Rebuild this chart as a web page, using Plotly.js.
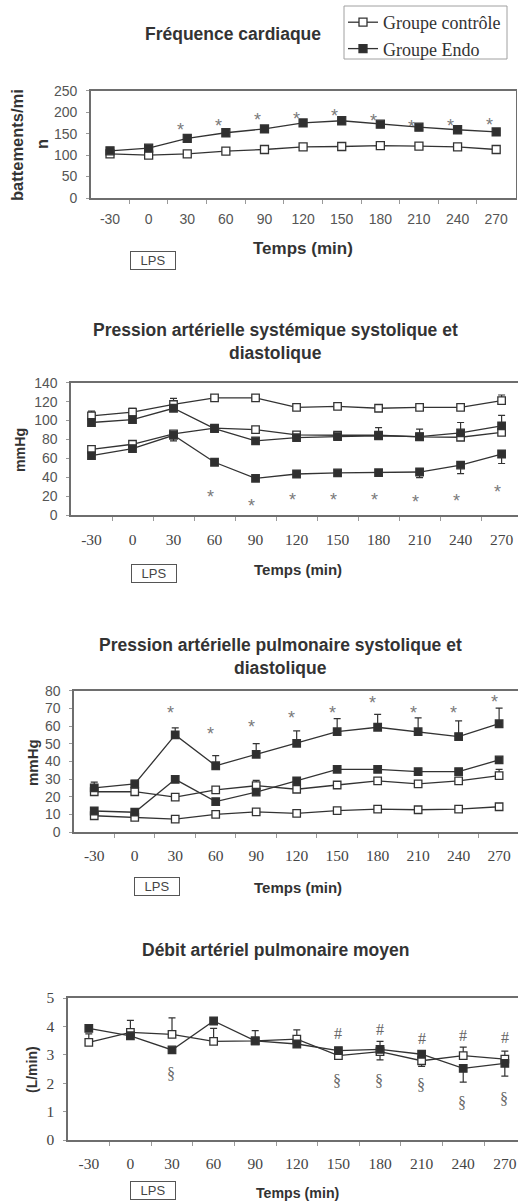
<!DOCTYPE html>
<html>
<head>
<meta charset="utf-8">
<script src="https://cdn.plot.ly/plotly-3.0.1.min.js"></script>
<style>
  html, body { margin: 0; padding: 0; background: #fff; }
  #chart { width: 518px; height: 1202px; }
</style>
</head>
<body>
<div id="chart"></div>
<script>
// Temps de mesure (min)
const times = [-30, 0, 30, 60, 90, 120, 150, 180, 210, 240, 270];
const timeLabels = ['-30', '0', '30', '60', '90', '120', '150', '180', '210', '240', '270'];

// Fréquence cardiaque (battements/min)
const fcControle = [103, 100, 103, 109, 113, 119, 120, 122, 121, 119, 113];
const fcEndo = [110, 116, 139, 152, 161, 175, 180, 172, 165, 159, 154];
const fcStarTimes = [30, 60, 90, 120, 150, 180, 210, 240, 270];
const fcStarLevels = [168, 176, 191, 193, 200, 188, 174, 178, 180];

// Pression artérielle systémique (mmHg)
const pasSysControle = [105, 109, 117, 124, 124, 114, 115, 113, 114, 114, 121];
const pasSysControleErr = [5, 4, 6.5, 0, 0, 0, 0, 0, 0, 0, 6];
const pasSysEndo = [98, 101, 113, 91.5, 78.5, 82, 83, 84, 83, 87, 94.5];
const pasSysEndoErr = [0, 0, 0, 0, 0, 0, 0, 8.5, 8, 11, 11];
const pasDiaControle = [69.5, 75, 86, 92, 90.5, 85, 84.5, 84.5, 82.7, 82.4, 87.6];
const pasDiaEndo = [63, 70.5, 84.5, 56, 39, 43.6, 44.7, 45, 45.7, 53, 64.7];
const pasDiaEndoErrMoins = [0, 0, 6, 0, 0, 0, 0, 0, 6, 9, 10];
const pasStarTimes = [60, 90, 120, 150, 180, 210, 240, 270];
const pasStarLevels = [24, 14, 20, 20.5, 20.5, 18, 19.7, 28.5];

// Pression artérielle pulmonaire (mmHg)
const papSysControle = [22.8, 22.8, 19.8, 23.8, 26.2, 24.2, 26.6, 28.9, 27.2, 28.9, 31.9];
const papSysControleErr = [0, 0, 0, 0, 3, 0, 0, 0, 0, 0, 3.5];
const papSysEndo = [25, 27.2, 55, 37.5, 44, 50.2, 56.8, 59.3, 56.8, 54, 61.3];
const papSysEndoErr = [3.2, 2, 4, 5.7, 6, 7, 7.4, 7.3, 7.8, 8.9, 8.8];
const papDiaControle = [9.2, 8.3, 7.3, 10, 11.4, 10.6, 12.1, 13, 12.6, 13, 14.3];
const papDiaEndo = [11.9, 11.2, 29.8, 17.2, 22.6, 29, 35.5, 35.5, 34.2, 34.2, 40.8];
const papStarTimes = [30, 60, 90, 120, 150, 180, 210, 240, 270];
const papStarLevels = [69.6, 58, 61.5, 66.6, 69.6, 75.3, 69.6, 69.6, 75.7];

// Débit artériel pulmonaire moyen (L/min)
const qControle = [3.44, 3.79, 3.72, 3.47, 3.49, 3.55, 2.97, 3.11, 2.79, 2.97, 2.85];
const qControleErrPlus = [0.3, 0.42, 0.58, 0.46, 0, 0.33, 0, 0, 0, 0.3, 0.28];
const qControleErrMoins = [0, 0, 0, 0, 0, 0, 0, 0.29, 0.2, 0, 0];
const qEndo = [3.93, 3.67, 3.17, 4.19, 3.49, 3.38, 3.15, 3.19, 3.02, 2.52, 2.7];
const qEndoErrPlus = [0, 0, 0, 0, 0.36, 0, 0, 0.28, 0, 0, 0];
const qEndoErrMoins = [0, 0, 0, 0, 0, 0, 0, 0, 0, 0.48, 0.45];
const qHashTimes = [150, 180, 210, 240, 270];
const qHashLevels = [3.76, 3.9, 3.58, 3.67, 3.62];
const qSectTimes = [30, 150, 180, 210, 240, 270];
const qSectLevels = [2.35, 2.09, 2.11, 1.94, 1.31, 1.47];

// ---- style ----
const W = 518, H = 1202;
const SANS = 'Liberation Sans, Arial, sans-serif';
const SERIF = 'Liberation Serif, Times New Roman, serif';
const INK = '#333333';
const AXIS = '#6e6e6e';
const px = x => x / W;
const py = y => 1 - y / H;

// boundaries between time points, where the x tick marks sit
const bounds = times.slice(0, -1).map(t => t + 15);

function series(x, y, xa, ya, filled, opts) {
  const o = opts || {};
  const t = {
    type: 'scatter', mode: 'lines+markers', x: x, y: y, xaxis: xa, yaxis: ya,
    line: { color: INK, width: 1.3 },
    marker: {
      symbol: 'square', size: o.size || 7.5,
      color: filled ? '#2f2f2f' : '#ffffff',
      line: { color: INK, width: 1.3 }
    },
    showlegend: !!o.name, name: o.name || '', hoverinfo: 'skip'
  };
  if (o.plus || o.minus) {
    t.error_y = {
      type: 'data', symmetric: false,
      array: o.plus || x.map(() => 0),
      arrayminus: o.minus || x.map(() => 0),
      color: INK, thickness: 1.2, width: 3.5
    };
  }
  return t;
}

const data = [
  series(times, fcControle, 'x', 'y', false, { name: 'Groupe contrôle', size: 8 }),
  series(times, fcEndo, 'x', 'y', true, { name: 'Groupe Endo', size: 8 }),

  series(times, pasSysControle, 'x2', 'y2', false, { plus: pasSysControleErr }),
  series(times, pasDiaControle, 'x2', 'y2', false, {}),
  series(times, pasSysEndo, 'x2', 'y2', true, { plus: pasSysEndoErr }),
  series(times, pasDiaEndo, 'x2', 'y2', true, { minus: pasDiaEndoErrMoins }),

  series(times, papSysControle, 'x3', 'y3', false, { plus: papSysControleErr }),
  series(times, papDiaControle, 'x3', 'y3', false, {}),
  series(times, papSysEndo, 'x3', 'y3', true, { plus: papSysEndoErr }),
  series(times, papDiaEndo, 'x3', 'y3', true, {}),

  series(times, qControle, 'x4', 'y4', false, { plus: qControleErrPlus, minus: qControleErrMoins }),
  series(times, qEndo, 'x4', 'y4', true, { plus: qEndoErrPlus, minus: qEndoErrMoins })
];

function xAxis(anchor, domain, range, tickFont, standoff) {
  return {
    anchor: anchor, domain: domain, range: range, type: 'linear',
    tickmode: 'array', tickvals: times, ticktext: timeLabels,
    ticks: '', showgrid: false, zeroline: false,
    showline: true, linecolor: AXIS, linewidth: 1.6, mirror: true,
    tickfont: tickFont, ticklabelstandoff: standoff,
    minor: { tickmode: 'array', tickvals: bounds, ticks: 'outside', ticklen: 4, tickcolor: '#9a9a9a', tickwidth: 1, showgrid: false }
  };
}
function yAxis(anchor, domain, range, dtick, tickFont, mirror) {
  return {
    anchor: anchor, domain: domain, range: range, dtick: dtick, tick0: 0,
    showgrid: false, zeroline: false,
    showline: true, linecolor: AXIS, linewidth: 1.6, mirror: mirror,
    ticks: 'outside', ticklen: 3, tickcolor: '#9a9a9a',
    tickfont: tickFont, ticklabelstandoff: 6
  };
}

const sansTicks = { family: SANS, size: 14, color: '#555' };
const serifTicks = { family: SERIF, size: 15.5, color: '#444' };

const layout = {
  width: W, height: H,
  margin: { l: 0, r: 0, t: 0, b: 0 },
  paper_bgcolor: '#fff', plot_bgcolor: '#fff',
  showlegend: true,
  legend: {
    x: px(343), y: py(4), xanchor: 'left', yanchor: 'top',
    borderwidth: 0, bgcolor: 'rgba(0,0,0,0)',
    font: { family: SERIF, size: 18, color: INK },
    itemwidth: 30, tracegroupgap: 0
  },
  shapes: [
    // cadre de la légende
    { type: 'rect', xref: 'paper', yref: 'paper', x0: px(344), x1: px(507), y0: py(59), y1: py(6),
      line: { color: '#a0a0a0', width: 1 }, fillcolor: 'rgba(0,0,0,0)', layer: 'below' }
  ],
  xaxis: xAxis('y', [px(90.7), px(515.5)], [-45, 285], sansTicks, 8),
  yaxis: yAxis('x', [py(198), py(90.7)], [0, 250], 50, sansTicks, true),
  xaxis2: xAxis('y2', [px(71), 1], [-45, 282], serifTicks, 9),
  yaxis2: yAxis('x2', [py(515.3), py(382.7)], [0, 140], 20, sansTicks, false),
  xaxis3: xAxis('y3', [px(74), 1], [-45, 284], serifTicks, 9),
  yaxis3: yAxis('x3', [py(832), py(690.7)], [0, 80], 10, sansTicks, false),
  xaxis4: xAxis('y4', [px(68), 1], [-45, 279.5], serifTicks, 9),
  yaxis4: yAxis('x4', [py(1140), py(998)], [0, 5], 1, serifTicks, false),
  annotations: []
};

const ann = layout.annotations;
function paperText(text, x, y, font, extra) {
  ann.push(Object.assign({
    text: text, xref: 'paper', yref: 'paper', x: px(x), y: py(y),
    xanchor: 'center', yanchor: 'middle', showarrow: false, font: font
  }, extra || {}));
}
const titleFont = s => ({ family: SANS, size: s, color: INK, weight: 'bold' });
const lpsFont = { family: SANS, size: 13, color: '#444' };

// titres
paperText('Fréquence cardiaque', 233, 34, titleFont(17.5));
paperText('Pression artérielle systémique systolique et', 275, 330, titleFont(17.5));
paperText('diastolique', 275, 353, titleFont(17.5));
paperText('Pression artérielle pulmonaire systolique et', 280, 645, titleFont(17.5));
paperText('diastolique', 280, 668, titleFont(17.5));
paperText('Débit artériel pulmonaire moyen', 275, 950, titleFont(17.5));

// titres d'axes
paperText('battements/mi', 17, 145, titleFont(16.5), { textangle: -90 });
paperText('n', 42, 144, titleFont(16.5), { textangle: -90 });
paperText('mmHg', 20, 450, titleFont(14.2), { textangle: -90 });
paperText('mmHg', 32, 763, titleFont(15), { textangle: -90 });
paperText('(L/min)', 32, 1070, titleFont(14), { textangle: -90 });

paperText('Temps (min)', 303, 248, titleFont(17));
paperText('Temps (min)', 298, 569, titleFont(15));
paperText('Temps (min)', 298, 887, titleFont(15));
paperText('Temps (min)', 298, 1193, titleFont(14.2));

// injection de LPS
const lpsBox = { bordercolor: '#555', borderwidth: 1, borderpad: 1, bgcolor: '#fff', width: 42 };
paperText('LPS', 153, 260, lpsFont, lpsBox);
paperText('LPS', 154, 573, lpsFont, lpsBox);
paperText('LPS', 157, 886, lpsFont, lpsBox);
paperText('LPS', 153, 1190, lpsFont, lpsBox);

// marques de significativité
function marks(sym, ts, levels, xa, ya, font, xshift, yshift) {
  ts.forEach((t, i) => ann.push({
    text: sym, xref: xa, yref: ya, x: t, y: levels[i],
    xanchor: 'center', yanchor: 'middle', showarrow: false,
    font: font, xshift: xshift, yshift: yshift
  }));
}
const starFont = { family: SANS, size: 18, color: '#7a7a7a' };
const symFont = { family: SERIF, size: 16, color: '#666' };
marks('*', fcStarTimes, fcStarLevels, 'x', 'y', starFont, -7, -4);
marks('*', pasStarTimes, pasStarLevels, 'x2', 'y2', starFont, -4, -4);
marks('*', papStarTimes, papStarLevels, 'x3', 'y3', starFont, -5, -4);
marks('#', qHashTimes, qHashLevels, 'x4', 'y4', symFont, 0, 0);
marks('§', qSectTimes, qSectLevels, 'x4', 'y4', symFont, -1, 0);

Plotly.newPlot('chart', data, layout, { staticPlot: true, displayModeBar: false });
</script>
</body>
</html>
